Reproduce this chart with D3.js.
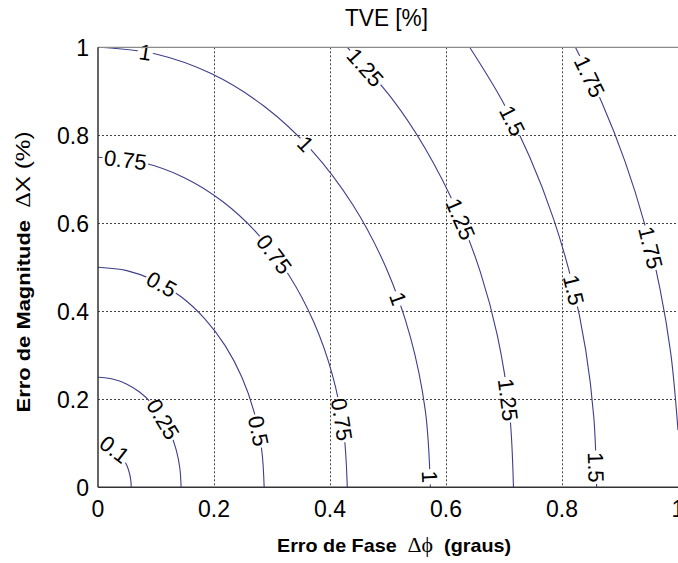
<!DOCTYPE html>
<html>
<head>
<meta charset="utf-8">
<script src="https://cdn.jsdelivr.net/npm/d3@7"></script>
<style>
  body { margin: 0; background: #fff; }
  svg { display: block; }
</style>
</head>
<body>
<svg id="chart" width="678" height="563"></svg>
<script>
// TVE iso-curves over phase error (degrees) and magnitude error (%)
const levels = [0.1, 0.25, 0.5, 0.75, 1, 1.25, 1.5, 1.75];

// Points along each iso-TVE curve: [phase error (graus), magnitude error (%)]
const tve010 = [[0,0.1],[0.0099,0.0985],[0.0196,0.094],[0.0287,0.0866],[0.0368,0.0766],[0.0439,0.0643],[0.0496,0.05],[0.0538,0.0342],[0.0564,0.0174],[0.0573,0]];
const tve025 = [[0,0.25],[0.0249,0.2462],[0.049,0.2349],[0.0716,0.2165],[0.0921,0.1915],[0.1098,0.1607],[0.1241,0.125],[0.1347,0.0855],[0.1411,0.0434],[0.1433,0]];
const tve050 = [[0,0.5],[0.0497,0.4924],[0.098,0.4698],[0.1433,0.433],[0.1842,0.383],[0.2195,0.3214],[0.2481,0.25],[0.2692,0.171],[0.2821,0.0868],[0.2865,0]];
const tve075 = [[0,0.75],[0.0746,0.7386],[0.147,0.7048],[0.2149,0.6495],[0.2763,0.5745],[0.3292,0.4821],[0.3722,0.375],[0.4039,0.2565],[0.4233,0.1302],[0.4298,0]];
const tve100 = [[0,1],[0.0995,0.9848],[0.196,0.9397],[0.2865,0.866],[0.3684,0.766],[0.439,0.6428],[0.4963,0.5],[0.5385,0.342],[0.5644,0.1736],[0.5731,0]];
const tve125 = [[0.4298,1],[0.5065,0.8839],[0.5644,0.7696],[0.6203,0.625],[0.6594,0.4884],[0.6886,0.3445],[0.7093,0.174],[0.7163,0]];
const tve150 = [[0.6408,1],[0.6955,0.8817],[0.7445,0.75],[0.7854,0.6101],[0.8177,0.4635],[0.8409,0.3119],[0.855,0.1568],[0.8597,0]];
const tve175 = [[0.8231,1],[0.8685,0.875],[0.9089,0.7396],[0.9424,0.5985],[0.9687,0.4529],[0.9876,0.3038],[1.0,0.13]];

const curves = [tve010, tve025, tve050, tve075, tve100, tve125, tve150, tve175];

// Inline level labels: [level, phase, magnitude]
const labelSpots = [
  [0.1, 0.028, 0.085],
  [0.25, 0.109, 0.153],
  [0.5, 0.110, 0.462],
  [0.5, 0.276, 0.128],
  [0.75, 0.047, 0.744],
  [0.75, 0.297, 0.523],
  [0.75, 0.417, 0.153],
  [1, 0.081, 0.987],
  [1, 0.357, 0.780],
  [1, 0.512, 0.426],
  [1, 0.569, 0.023],
  [1.25, 0.460, 0.953],
  [1.25, 0.621, 0.608],
  [1.25, 0.705, 0.199],
  [1.5, 0.710, 0.830],
  [1.5, 0.814, 0.446],
  [1.5, 0.859, 0.046],
  [1.75, 0.843, 0.931],
  [1.75, 0.952, 0.544]
];

const xTicks = [0, 0.2, 0.4, 0.6, 0.8, 1];
const yTicks = [0, 0.2, 0.4, 0.6, 0.8, 1];
const xTickLabels = ["0", "0.2", "0.4", "0.6", "0.8", "1"];
const yTickLabels = ["0", "0.2", "0.4", "0.6", "0.8", "1"];

const titleText = "TVE [%]";

const svg = d3.select("#chart");
const plotLeft = 98, plotRight = 678, plotTop = 47.3, plotBottom = 487.3;

const x = d3.scaleLinear().domain([0, 1]).range([plotLeft, plotRight]);
const y = d3.scaleLinear().domain([0, 1]).range([plotBottom, plotTop]);

const sans = "'Liberation Sans', Arial, Helvetica, sans-serif";
const serif = "'Liberation Serif', 'Times New Roman', serif";

svg.append("rect").attr("width", 678).attr("height", 563).attr("fill", "#fff");

const defs = svg.append("defs");
defs.append("clipPath").attr("id", "plotClip")
  .append("rect")
  .attr("x", plotLeft).attr("y", plotTop)
  .attr("width", plotRight - plotLeft).attr("height", plotBottom - plotTop);

// dotted grid
const grid = svg.append("g").attr("stroke", "#444").attr("stroke-width", 1)
  .attr("stroke-dasharray", "2,2").attr("fill", "none");
grid.selectAll("line.v").data(xTicks.filter(t => t > 0 && t < 1)).join("line")
  .attr("class", "v")
  .attr("x1", d => Math.round(x(d)) + 0.5).attr("x2", d => Math.round(x(d)) + 0.5)
  .attr("y1", plotTop).attr("y2", plotBottom);
grid.selectAll("line.h").data(yTicks.filter(t => t > 0 && t < 1)).join("line")
  .attr("class", "h")
  .attr("x1", plotLeft).attr("x2", plotRight)
  .attr("y1", d => Math.round(y(d)) + 0.5).attr("y2", d => Math.round(y(d)) + 0.5);

// level curves
const lineGen = d3.line()
  .x(d => x(d[0])).y(d => y(d[1]))
  .curve(d3.curveCatmullRom.alpha(0.5));

const mask = defs.append("mask").attr("id", "labelGaps")
  .attr("maskUnits", "userSpaceOnUse")
  .attr("x", 0).attr("y", 0).attr("width", 678).attr("height", 563);
mask.append("rect").attr("width", 678).attr("height", 563).attr("fill", "#fff");

const curveOuter = svg.append("g").attr("clip-path", "url(#plotClip)");
const curveG = curveOuter.append("g").attr("mask", "url(#labelGaps)");
const paths = curveG.selectAll("path").data(curves).join("path")
  .attr("d", lineGen)
  .attr("fill", "none")
  .attr("stroke", "#3e3e8c")
  .attr("stroke-width", 1.1);

// sample each curve to place and orient its labels
const samples = paths.nodes().map(node => {
  const len = node.getTotalLength();
  const pts = [];
  for (let s = 0; s <= len; s += 0.5) {
    const p = node.getPointAtLength(s);
    pts.push([p.x, p.y]);
  }
  return pts;
});

const labelG = svg.append("g");
labelSpots.forEach(([lev, lx, ly]) => {
  const ci = levels.indexOf(lev);
  const pts = samples[ci];
  const tx = x(lx), ty = y(ly);
  let best = 0, bestD = Infinity;
  pts.forEach((p, i) => {
    const d = (p[0] - tx) ** 2 + (p[1] - ty) ** 2;
    if (d < bestD) { bestD = d; best = i; }
  });
  const a = pts[Math.max(0, best - 6)], b = pts[Math.min(pts.length - 1, best + 6)];
  const ang = Math.atan2(b[1] - a[1], b[0] - a[0]) * 180 / Math.PI;
  const cx = pts[best][0], cy = pts[best][1];
  const t = labelG.append("text")
    .attr("transform", `translate(${cx},${cy}) rotate(${ang})`)
    .attr("text-anchor", "middle")
    .attr("dy", "0.36em")
    .attr("font-family", sans)
    .attr("font-size", 22)
    .attr("fill", "#000")
    .text(String(lev));
  const w = t.node().getComputedTextLength() + 3;
  mask.append("rect")
    .attr("transform", `translate(${cx},${cy}) rotate(${ang})`)
    .attr("x", -w / 2).attr("y", -9)
    .attr("width", w).attr("height", 18)
    .attr("fill", "#000");
});

// frame
svg.append("line").attr("x1", plotLeft).attr("x2", plotRight).attr("y1", plotTop).attr("y2", plotTop)
  .attr("stroke", "#8a8a8a").attr("stroke-width", 1.2);
svg.append("line").attr("x1", plotLeft).attr("x2", plotLeft).attr("y1", plotTop).attr("y2", plotBottom)
  .attr("stroke", "#333").attr("stroke-width", 1.5);
svg.append("line").attr("x1", plotLeft).attr("x2", plotRight).attr("y1", plotBottom).attr("y2", plotBottom)
  .attr("stroke", "#333").attr("stroke-width", 1.5);

// tick labels
svg.append("g").selectAll("text").data(xTicks).join("text")
  .attr("x", d => x(d)).attr("y", 516.7)
  .attr("text-anchor", "middle")
  .attr("font-family", sans).attr("font-size", 23).attr("fill", "#000")
  .text((d, i) => xTickLabels[i]);
svg.append("g").selectAll("text").data(yTicks).join("text")
  .attr("x", 89).attr("y", d => y(d) + 8.3)
  .attr("text-anchor", "end")
  .attr("font-family", sans).attr("font-size", 23).attr("fill", "#000")
  .text((d, i) => yTickLabels[i]);

// title
svg.append("text")
  .attr("x", 386.5).attr("y", 26)
  .attr("text-anchor", "middle")
  .attr("font-family", sans).attr("font-size", 23).attr("fill", "#000")
  .attr("textLength", 83).attr("lengthAdjust", "spacingAndGlyphs")
  .text(titleText);

// x axis label
const xl = svg.append("text")
  .attr("x", 394).attr("y", 552.3)
  .attr("text-anchor", "middle")
  .attr("fill", "#000")
  .style("white-space", "pre")
  .attr("textLength", 234).attr("lengthAdjust", "spacingAndGlyphs");
xl.append("tspan").attr("font-family", sans).attr("font-weight", "bold").attr("font-size", 19).text("Erro de Fase  ");
xl.append("tspan").attr("font-family", serif).attr("font-size", 21).text("Δϕ");
xl.append("tspan").attr("font-family", sans).attr("font-weight", "bold").attr("font-size", 19).text("  (graus)");

// y axis label
const yl = svg.append("text")
  .attr("transform", "translate(30,272) rotate(-90)")
  .attr("text-anchor", "middle")
  .attr("fill", "#000")
  .style("white-space", "pre")
  .attr("textLength", 281).attr("lengthAdjust", "spacingAndGlyphs");
yl.append("tspan").attr("font-family", sans).attr("font-weight", "bold").attr("font-size", 19).text("Erro de Magnitude  ");
yl.append("tspan").attr("font-family", serif).attr("font-size", 21).text("Δ");
yl.append("tspan").attr("font-family", sans).attr("font-size", 21).text("X (%)");
</script>
</body>
</html>
